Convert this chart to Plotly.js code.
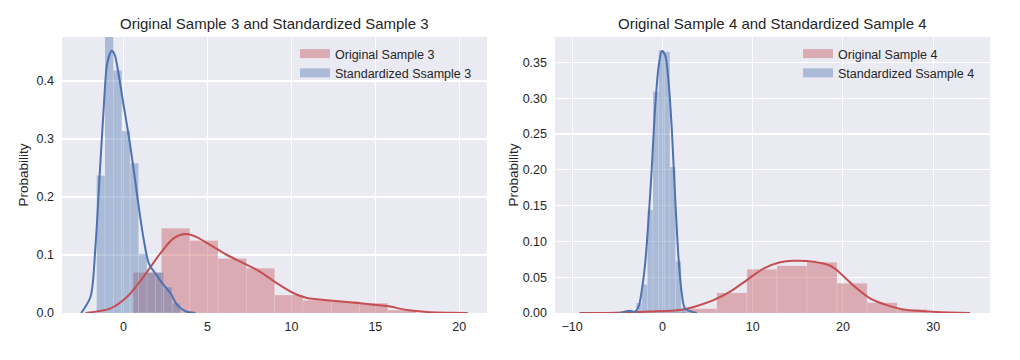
<!DOCTYPE html>
<html>
<head>
<meta charset="utf-8">
<script src="https://cdn.plot.ly/plotly-3.0.1.min.js"></script>
<style>html,body{margin:0;padding:0;background:#fff;}#chart{width:1020px;height:360px;}</style>
</head>
<body>
<div id="chart"></div>
<script>
// ---- Sample 3 (left panel) ----
const orig3Edges = [0.575, 2.261, 3.947, 5.633, 7.319, 9.005, 10.691, 12.377, 14.063, 15.749, 17.435];
const orig3Heights = [0.070, 0.146, 0.125, 0.094, 0.077, 0.031, 0.022, 0.020, 0.017, 0.005];
const std3Edges = [-1.6, -1.1, -0.6, -0.1, 0.4, 0.9, 1.4, 1.9, 2.4, 2.9, 3.4];
const std3Heights = [0.237, 0.490, 0.418, 0.314, 0.258, 0.102, 0.070, 0.070, 0.045, 0.017];
const orig3KdeX = [-2.26, -0.77, 0.22, 1.21, 2.2, 3.0, 3.69, 4.39, 5.18, 6.17, 7.16, 8.15, 9.15, 10.14, 10.93, 12.12, 14.1, 15.7, 16.9, 18.08, 20.5];
const orig3KdeY = [0.0, 0.008, 0.028, 0.063, 0.103, 0.129, 0.136, 0.1305, 0.117, 0.100, 0.0857, 0.071, 0.051, 0.034, 0.026, 0.022, 0.0167, 0.012, 0.005, 0.0017, 0.0];
const std3KdeX = [-2.52, -1.96, -1.67, -1.41, -1.17, -0.97, -0.70, -0.52, -0.28, 0.02, 0.32, 0.61, 0.91, 1.21, 1.51, 1.9, 2.4, 2.8, 3.2, 3.69, 4.29];
const std3KdeY = [0.0, 0.028, 0.114, 0.241, 0.356, 0.43, 0.452, 0.445, 0.41, 0.356, 0.304, 0.247, 0.183, 0.126, 0.0857, 0.068, 0.048, 0.034, 0.014, 0.003, 0.0];

// ---- Sample 4 (right panel) ----
const orig4Edges = [-3.96, -0.63, 2.70, 6.03, 9.36, 12.69, 16.02, 19.35, 22.68, 26.01, 29.34];
const orig4Heights = [0.001, 0.002, 0.006, 0.028, 0.061, 0.066, 0.071, 0.0415, 0.0144, 0.005];
const std4Edges = [-3.52, -2.90, -2.28, -1.66, -1.04, -0.41, 0.21, 0.83, 1.46, 2.08, 2.70];
const std4Heights = [0.004, 0.014, 0.040, 0.144, 0.309, 0.367, 0.365, 0.204, 0.072, 0.007];
const orig4KdeX = [-9.2, -5.0, -1.36, 1.97, 3.82, 5.66, 7.51, 9.36, 11.2, 13.05, 14.53, 16.75, 18.6, 19.5, 21.2, 23.0, 24.87, 26.7, 28.56, 30.4, 34.1];
const orig4KdeY = [0.0, 0.0005, 0.002, 0.0042, 0.0098, 0.018, 0.0298, 0.046, 0.062, 0.0708, 0.073, 0.0717, 0.066, 0.058, 0.038, 0.0205, 0.011, 0.005, 0.0028, 0.0014, 0.0];
const std4KdeX = [-4.68, -3.57, -3.13, -2.65, -2.28, -1.91, -1.54, -1.17, -0.80, -0.43, -0.06, 0.30, 0.67, 1.05, 1.41, 1.78, 2.15, 2.52, 3.82];
const std4KdeY = [0.0, 0.003, 0.001, 0.0085, 0.032, 0.069, 0.13, 0.204, 0.288, 0.343, 0.366, 0.36, 0.325, 0.255, 0.162, 0.078, 0.027, 0.006, 0.0];

const leftXTicks = [0, 5, 10, 15, 20];
const leftYTicks = [0.0, 0.1, 0.2, 0.3, 0.4];
const rightXTicks = [-10, 0, 10, 20, 30];
const rightYTicks = [0.00, 0.05, 0.10, 0.15, 0.20, 0.25, 0.30, 0.35];

const names = {
  o3: 'Original Sample 3', s3: 'Standardized Ssample 3',
  o4: 'Original Sample 4', s4: 'Standardized Ssample 4',
  t3: 'Original Sample 3 and Standardized Sample 3',
  t4: 'Original Sample 4 and Standardized Sample 4',
  yl: 'Probability'
};

const RED = '#C44E52', BLUE = '#4C72B0';
const RED_A = 'rgba(196,78,82,0.4)', BLUE_A = 'rgba(76,114,176,0.4)';
const FONT = 'Liberation Sans, Arial, Helvetica, sans-serif';
const TXT = '#262626';

function histTrace(edges, heights, color, xa, ya) {
  const centers = [], widths = [];
  for (let i = 0; i < heights.length; i++) {
    centers.push((edges[i] + edges[i + 1]) / 2);
    widths.push(edges[i + 1] - edges[i]);
  }
  return {type: 'bar', x: centers, y: heights, width: widths, xaxis: xa, yaxis: ya,
    marker: {color: color, line: {color: 'rgba(255,255,255,0.25)', width: 0.6}},
    showlegend: false, hoverinfo: 'skip'};
}
function kdeTrace(x, y, color, xa, ya) {
  return {type: 'scatter', mode: 'lines', x: x, y: y, xaxis: xa, yaxis: ya,
    line: {color: color, width: 2, shape: 'spline', smoothing: 0.8},
    showlegend: false, hoverinfo: 'skip'};
}
function legendTrace(name, color, xa, ya, lg) {
  return {type: 'scatter', mode: 'lines', x: [null], y: [null], xaxis: xa, yaxis: ya,
    name: name, legend: lg, line: {color: color, width: 9}, showlegend: true, hoverinfo: 'skip'};
}

const data = [
  histTrace(orig3Edges, orig3Heights, RED_A, 'x', 'y'),
  kdeTrace(orig3KdeX, orig3KdeY, RED, 'x', 'y'),
  histTrace(std3Edges, std3Heights, BLUE_A, 'x', 'y'),
  kdeTrace(std3KdeX, std3KdeY, BLUE, 'x', 'y'),
  histTrace(orig4Edges, orig4Heights, RED_A, 'x2', 'y2'),
  kdeTrace(orig4KdeX, orig4KdeY, RED, 'x2', 'y2'),
  histTrace(std4Edges, std4Heights, BLUE_A, 'x2', 'y2'),
  kdeTrace(std4KdeX, std4KdeY, BLUE, 'x2', 'y2'),
  legendTrace(names.o3, RED_A, 'x', 'y', 'legend'),
  legendTrace(names.s3, BLUE_A, 'x', 'y', 'legend'),
  legendTrace(names.o4, RED_A, 'x2', 'y2', 'legend2'),
  legendTrace(names.s4, BLUE_A, 'x2', 'y2', 'legend2')
];

const W = 1020, H = 360;
const yTop = 37, yBot = 313;
const yDom = [(H - yBot) / H, (H - yTop) / H];

function xAx(domPx, range, ticks) {
  return {domain: [domPx[0] / W, domPx[1] / W], range: range, tickvals: ticks,
    ticktext: ticks.map(v => v < 0 ? '\u2212' + Math.abs(v) : String(v)),
    showgrid: true, gridcolor: '#FFFFFF', gridwidth: 1.2, zeroline: false, showline: false,
    ticks: '', ticklabelstandoff: 4, tickfont: {family: FONT, size: 12.5, color: TXT}, fixedrange: true};
}
function yAx(range, ticks, fmt, anchor, standoff) {
  return {domain: yDom, range: range, tickvals: ticks,
    ticktext: ticks.map(v => v.toFixed(fmt)), anchor: anchor,
    showgrid: true, gridcolor: '#FFFFFF', gridwidth: 1.2, zeroline: false, showline: false,
    ticks: '', ticklabelstandoff: 7, tickfont: {family: FONT, size: 12.5, color: TXT},
    title: {text: names.yl, font: {family: FONT, size: 13.5, color: TXT}, standoff: standoff}, fixedrange: true};
}

const layout = {
  width: W, height: H,
  margin: {l: 0, r: 0, t: 0, b: 0, autoexpand: false},
  paper_bgcolor: '#FFFFFF', plot_bgcolor: '#EAEAF2',
  barmode: 'overlay', bargap: 0,
  font: {family: FONT, color: TXT},
  xaxis: xAx([62, 487], [-3.66, 21.65], leftXTicks),
  yaxis: yAx([0, (yBot - yTop) / 580], leftYTicks, 1, 'x', 4),
  xaxis2: Object.assign(xAx([555, 990], [-11.9, 36.3], rightXTicks), {anchor: 'y2'}),
  yaxis2: yAx([0, (yBot - yTop) / 716], rightYTicks, 2, 'x2', 0),
  legend: {x: 295 / W, y: (H - 39) / H, xanchor: 'left', yanchor: 'top', bgcolor: 'rgba(0,0,0,0)',
    font: {family: FONT, size: 12.5, color: TXT}, tracegroupgap: 0, itemclick: false},
  legend2: {x: 798 / W, y: (H - 39) / H, xanchor: 'left', yanchor: 'top', bgcolor: 'rgba(0,0,0,0)',
    font: {family: FONT, size: 12.5, color: TXT}, tracegroupgap: 0, itemclick: false},
  annotations: [
    {text: names.t3, xref: 'paper', yref: 'paper', x: (62 + 487) / 2 / W, y: (H - 23) / H,
      xanchor: 'center', yanchor: 'middle', showarrow: false, font: {family: FONT, size: 15, color: TXT}},
    {text: names.t4, xref: 'paper', yref: 'paper', x: (555 + 990) / 2 / W, y: (H - 23) / H,
      xanchor: 'center', yanchor: 'middle', showarrow: false, font: {family: FONT, size: 15, color: TXT}}
  ]
};

Plotly.newPlot('chart', data, layout, {staticPlot: true, displayModeBar: false});
</script>
</body>
</html>
